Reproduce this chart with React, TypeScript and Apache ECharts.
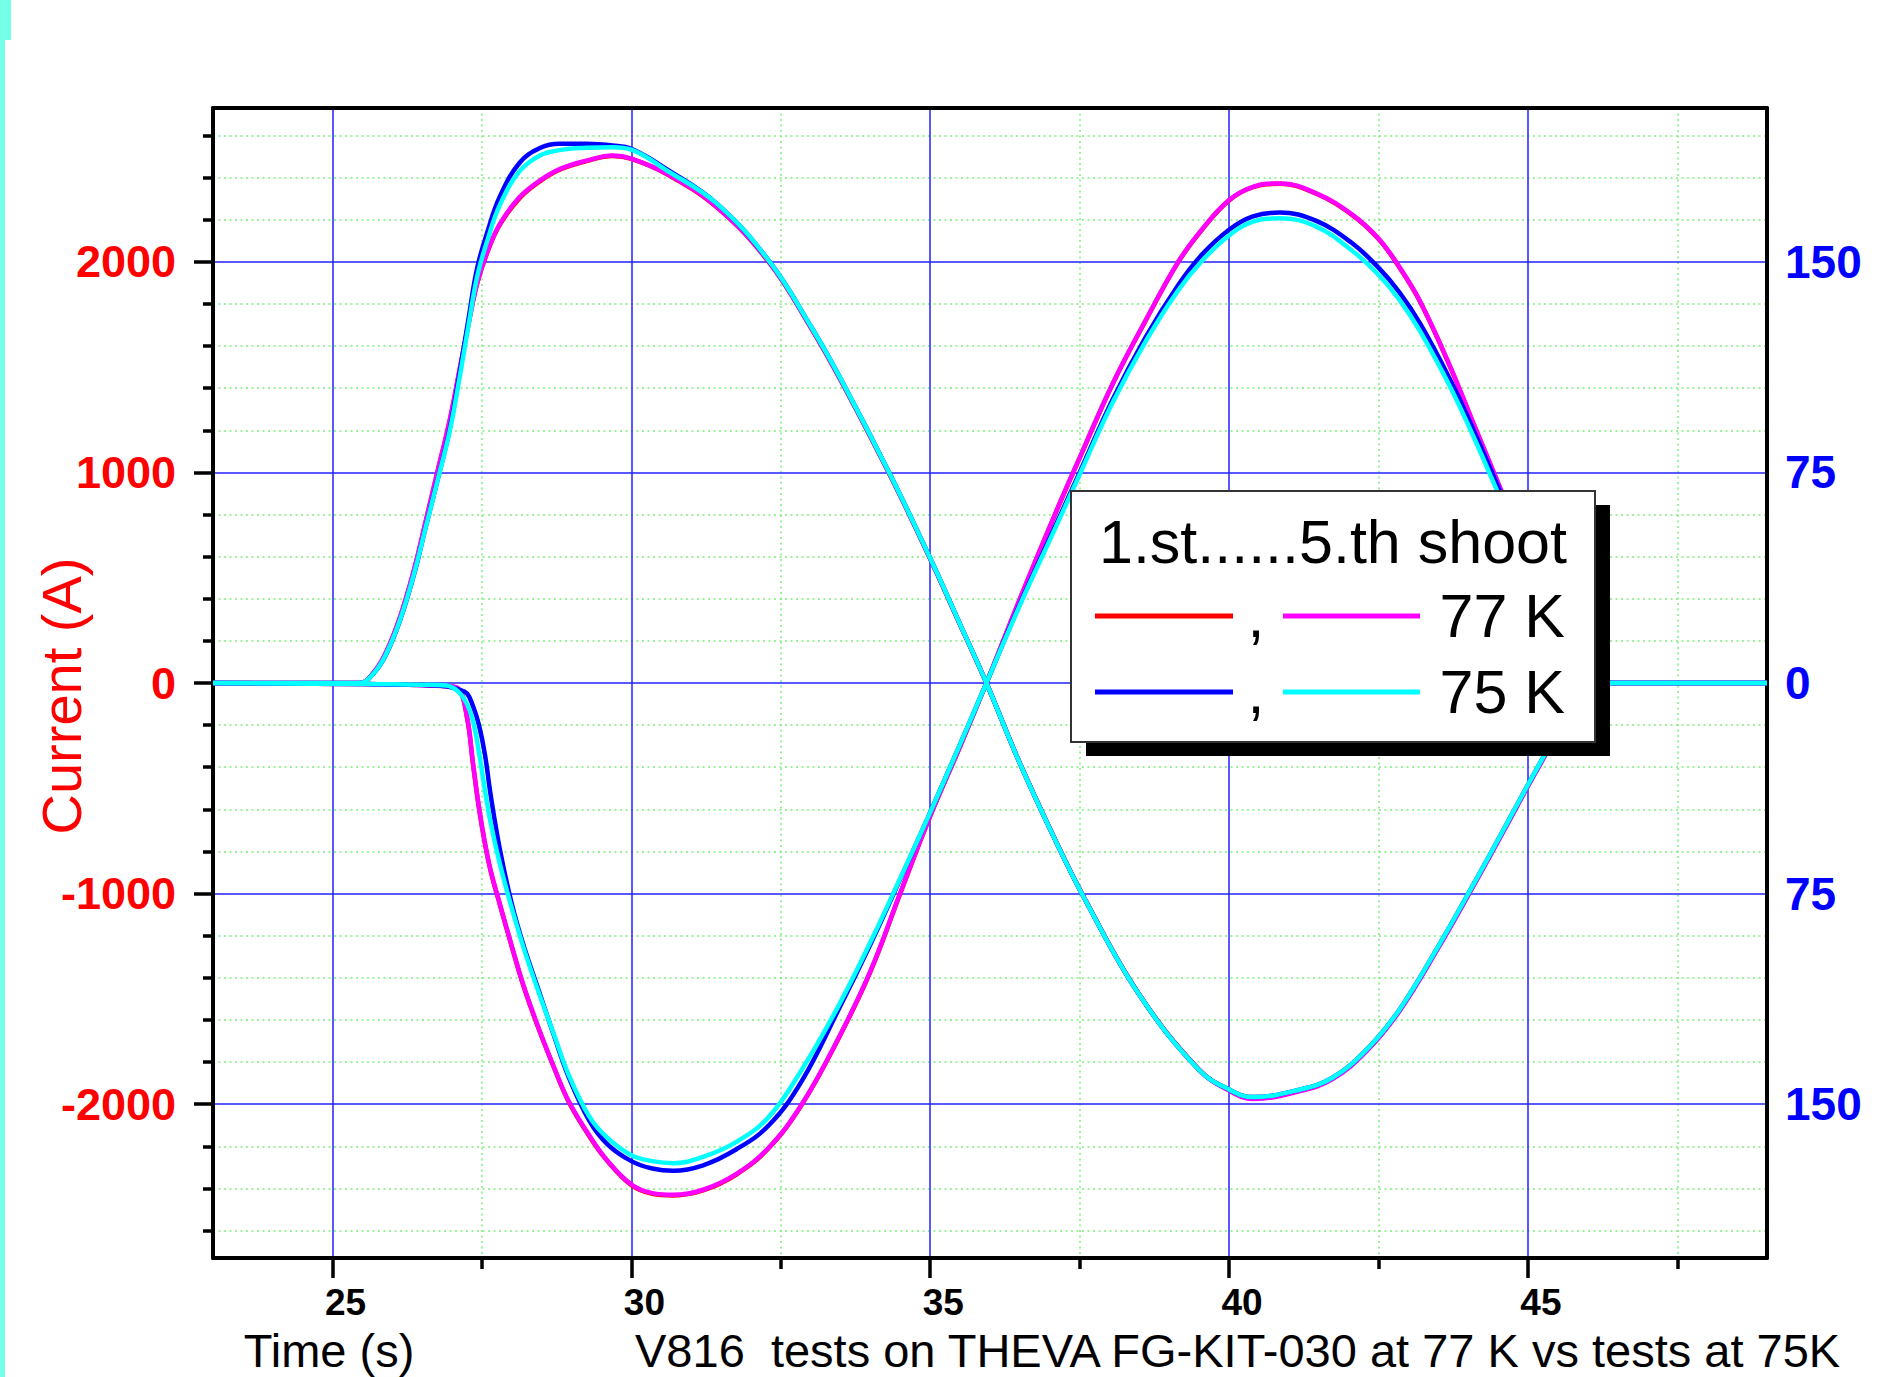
import React, { useEffect, useRef } from "react";
import * as echarts from "echarts";

// ---------- axis ranges & ticks ----------
const X_MIN = 23;
const X_MAX = 49;
const Y_MIN = -2730;
const Y_MAX = 2730;
const xMajorTicks = [25, 30, 35, 40, 45];
const xMinorTicks = [27.5, 32.5, 37.5, 42.5, 47.5];
const yMajorTicks = [-2000, -1000, 0, 1000, 2000];
const yMinorTicks = [
  -2600, -2400, -2200, -1800, -1600, -1400, -1200, -800, -600, -400, -200,
  200, 400, 600, 800, 1200, 1400, 1600, 1800, 2200, 2400, 2600,
];
const rightAxisPerAmp = 0.075; // right scale: 75 per 1000 A

// ---------- curve A (positive first) ----------
const timeA = [
  23, 25.45, 25.7, 25.9, 26.13, 26.36, 26.56, 26.76, 26.96, 27.12,
  27.27, 27.42, 27.6, 27.8, 28.13, 28.47, 28.8, 29.25, 29.69, 30.0,
  30.59, 31.43, 32.3, 33.0, 33.5, 34.35, 35.0, 35.48, 35.94, 36.48,
  37.08, 37.58, 38.49, 39.49, 40.0, 40.4, 41.18, 41.73, 42.3, 42.85,
  43.5, 44.1, 44.7, 45.0, 45.3, 45.6, 45.85, 46.05, 49,
];
const redA = [
  0, 0, 53, 147, 312, 532, 767, 1006, 1244, 1476,
  1696, 1897, 2052, 2176, 2302, 2382, 2437, 2478, 2502, 2488,
  2416, 2258, 1998, 1688, 1438, 973, 588, 288, 0, -367,
  -737, -1021, -1475, -1833, -1933, -1972, -1936, -1878, -1746, -1556,
  -1256, -956, -646, -488, -336, -176, -56, 0, 0,
];
const magentaA = [
  0, 0, 55, 150, 315, 535, 770, 1010, 1248, 1480,
  1700, 1900, 2055, 2180, 2307, 2386, 2440, 2480, 2505, 2490,
  2418, 2260, 2000, 1690, 1440, 975, 590, 290, 0, -369,
  -739, -1023, -1477, -1835, -1935, -1975, -1938, -1880, -1748, -1558,
  -1258, -958, -648, -490, -338, -178, -58, 0, 0,
];
const blueA = [
  0, 0, 50, 138, 298, 512, 742, 968, 1205, 1460,
  1720, 1970, 2150, 2310, 2470, 2540, 2560, 2560, 2552, 2536,
  2440, 2276, 2005, 1695, 1445, 978, 592, 291, 0, -369,
  -739, -1023, -1477, -1835, -1930, -1966, -1931, -1874, -1741, -1551,
  -1250, -950, -640, -483, -330, -170, -50, 0, 0,
];
const cyanA = [
  0, 0, 50, 140, 300, 515, 740, 965, 1195, 1440,
  1690, 1930, 2110, 2270, 2430, 2505, 2530, 2541, 2544, 2532,
  2434, 2276, 2005, 1695, 1445, 978, 592, 291, 0, -369,
  -739, -1023, -1477, -1835, -1930, -1966, -1931, -1874, -1741, -1551,
  -1250, -950, -640, -483, -330, -170, -50, 0, 0,
];

// ---------- curve B (negative first) ----------
const timeB = [
  23, 25.5, 26.5, 26.9, 27.1, 27.25, 27.35, 27.45, 27.55, 27.65,
  27.8, 28.0, 28.2, 28.45, 28.7, 28.95, 29.3, 29.6, 30.0, 30.35,
  30.7, 31.2, 31.75, 32.3, 32.85, 33.45, 34.0, 34.5, 35.0, 35.5,
  35.94, 36.5, 37.1, 37.5, 38.05, 38.6, 39.15, 39.55, 40.0, 40.4,
  40.85, 41.45, 42.05, 42.5, 42.85, 43.2, 43.7, 44.1, 44.55, 45.0,
  45.4, 45.7, 45.95, 46.1, 49,
];
const redB = [
  0, -5, -10, -16, -28, -165, -385, -595, -763, -898,
  -1053, -1253, -1443, -1643, -1823, -1988, -2154, -2270, -2384, -2425,
  -2433, -2409, -2335, -2208, -2003, -1697, -1370, -998, -632, -302,
  0, 398, 808, 1068, 1418, 1718, 1998, 2153, 2291, 2354,
  2370, 2324, 2224, 2108, 1973, 1808, 1500, 1223, 915, 598,
  318, 118, 18, 0, 0,
];
const magentaB = [
  0, -5, -10, -15, -25, -160, -380, -590, -760, -895,
  -1050, -1250, -1440, -1640, -1820, -1985, -2150, -2268, -2381, -2422,
  -2430, -2406, -2332, -2205, -2000, -1694, -1367, -995, -630, -300,
  0, 400, 810, 1070, 1420, 1720, 2000, 2155, 2293, 2356,
  2372, 2326, 2226, 2110, 1975, 1810, 1502, 1225, 917, 600,
  320, 120, 20, 0, 0,
];
const blueB = [
  0, -5, -10, -15, -30, -50, -110, -200, -340, -540,
  -790, -1050, -1250, -1460, -1670, -1870, -2080, -2190, -2270, -2305,
  -2316, -2290, -2215, -2100, -1890, -1560, -1240, -930, -614, -290,
  0, 375, 750, 1000, 1345, 1640, 1890, 2035, 2152, 2215,
  2234, 2195, 2090, 1972, 1855, 1705, 1440, 1195, 900, 600,
  315, 118, 20, 0, 0,
];
const cyanB = [
  0, -5, -8, -12, -40, -100, -180, -330, -510, -670,
  -860, -1070, -1260, -1470, -1665, -1860, -2060, -2160, -2242, -2270,
  -2280, -2250, -2180, -2060, -1836, -1541, -1230, -926, -614, -290,
  0, 370, 740, 990, 1330, 1620, 1865, 2005, 2125, 2190,
  2206, 2168, 2055, 1938, 1819, 1668, 1405, 1163, 870, 578,
  305, 112, 20, 0, 0,
];

// ---------- texts ----------
const xTitle = "Time (s)";
const yTitle = "Current (A)";
const subtitle = "V816  tests on THEVA FG-KIT-030 at 77 K vs tests at 75K";
const legendTitle = "1.st......5.th shoot";
const legendRowLabels = ["77 K", "75 K"];

// ---------- styles ----------
const FONT = "'Liberation Sans', Arial, Helvetica, sans-serif";
const RED = "#FF0000";
const MAGENTA = "#FF00FF";
const BLUE = "#0000FF";
const CYAN = "#00FFFF";
const BLUE_GRID = "#2222FF";
const GREEN_GRID = "#7CF07C";
const STRIP = "#74FFE8";

const seriesDefs = [
  { name: "77 K 1st shoot", t: timeA, v: redA, color: RED },
  { name: "77 K 1st shoot ", t: timeB, v: redB, color: RED },
  { name: "77 K 5th shoot", t: timeA, v: magentaA, color: MAGENTA },
  { name: "77 K 5th shoot ", t: timeB, v: magentaB, color: MAGENTA },
  { name: "75 K 1st shoot", t: timeA, v: blueA, color: BLUE },
  { name: "75 K 1st shoot ", t: timeB, v: blueB, color: BLUE },
  { name: "75 K 5th shoot", t: timeA, v: cyanA, color: CYAN },
  { name: "75 K 5th shoot ", t: timeB, v: cyanB, color: CYAN },
];

function buildOption(): any {
  const LX = 1071;
  const LY = 491;
  const ZL = 100;
  const legendEls: any[] = [
    { type: "rect", z: ZL, shape: { x: LX + 15, y: LY + 14, width: 524, height: 251 }, style: { fill: "#000" } },
    {
      type: "rect",
      z: ZL + 1,
      shape: { x: LX, y: LY, width: 524, height: 251 },
      style: { fill: "#fff", stroke: "#333", lineWidth: 2 },
    },
    {
      type: "text",
      z: ZL + 2,
      x: LX + 28,
      y: LY + 51,
      style: {
        text: legendTitle,
        fontFamily: FONT,
        fontSize: 61,
        fill: "#000",
        align: "left",
        verticalAlign: "middle",
      },
    },
  ];
  const rowColors = [
    [RED, MAGENTA],
    [BLUE, CYAN],
  ];
  const rowY = [125, 201];
  legendRowLabels.forEach((label, i) => {
    const y = LY + rowY[i];
    legendEls.push(
      {
        type: "line",
        z: ZL + 2,
        shape: { x1: LX + 24, y1: y, x2: LX + 162, y2: y },
        style: { stroke: rowColors[i][0], lineWidth: 5 },
      },
      {
        type: "text",
        z: ZL + 2,
        x: LX + 185,
        y,
        style: { text: ",", fontFamily: FONT, fontSize: 61, fill: "#000", align: "center", verticalAlign: "middle" },
      },
      {
        type: "line",
        z: ZL + 2,
        shape: { x1: LX + 212, y1: y, x2: LX + 349, y2: y },
        style: { stroke: rowColors[i][1], lineWidth: 5 },
      },
      {
        type: "text",
        z: ZL + 2,
        x: LX + 494,
        y,
        style: { text: label, fontFamily: FONT, fontSize: 61, fill: "#000", align: "right", verticalAlign: "middle" },
      }
    );
  });

  return {
    animation: false,
    backgroundColor: "#ffffff",
    textStyle: { fontFamily: FONT },
    grid: {
      left: 213,
      top: 108,
      width: 1554,
      height: 1150,
      containLabel: false,
      outerBoundsMode: "none",
    },
    xAxis: [
      {
        type: "value",
        position: "bottom",
        min: X_MIN,
        max: X_MAX,
        z: 1,
        name: xTitle,
        nameLocation: "middle",
        nameGap: 71,
        nameMoveOverlap: false,
        nameTextStyle: {
          fontFamily: FONT,
          fontSize: 47,
          lineHeight: 42,
          color: "#000",
          padding: [0, 1322, 0, 0],
        },
        axisLine: { show: true, onZero: false, lineStyle: { color: "#000", width: 4 } },
        axisTick: {
          show: true,
          inside: false,
          length: 20,
          customValues: xMajorTicks,
          lineStyle: { color: "#000", width: 3.5 },
        },
        axisLabel: {
          show: true,
          customValues: xMajorTicks,
          margin: 27,
          fontFamily: FONT,
          fontSize: 37,
          lineHeight: 34,
          fontWeight: "bold",
          color: "#000",
          padding: [0, 0, 0, 26],
          formatter: (v: number) => String(v),
        },
        splitLine: { show: true, lineStyle: { color: BLUE_GRID, width: 1.5 } },
      },
      {
        type: "value",
        position: "bottom",
        min: X_MIN,
        max: X_MAX,
        z: 0,
        axisLine: { show: false, onZero: false },
        axisTick: {
          show: true,
          inside: false,
          length: 11,
          customValues: xMinorTicks,
          lineStyle: { color: "#000", width: 3.5 },
        },
        axisLabel: { show: false },
        splitLine: { show: true, lineStyle: { color: GREEN_GRID, width: 1.5, type: [2, 3.5] } },
      },
      {
        type: "value",
        position: "top",
        min: X_MIN,
        max: X_MAX,
        z: 1,
        axisLine: { show: true, onZero: false, lineStyle: { color: "#000", width: 4 } },
        axisTick: { show: false },
        axisLabel: { show: false },
        splitLine: { show: false },
      },
    ],
    yAxis: [
      {
        type: "value",
        position: "left",
        min: Y_MIN,
        max: Y_MAX,
        z: 1,
        name: yTitle,
        nameLocation: "middle",
        nameGap: 124,
        nameMoveOverlap: false,
        nameTextStyle: { fontFamily: FONT, fontSize: 56, color: RED, padding: [0, 26, 0, 0] },
        axisLine: { show: true, onZero: false, lineStyle: { color: "#000", width: 4 } },
        axisTick: {
          show: true,
          inside: false,
          length: 19,
          customValues: yMajorTicks,
          lineStyle: { color: "#000", width: 3.5 },
        },
        axisLabel: {
          show: true,
          customValues: yMajorTicks,
          margin: 37,
          fontFamily: FONT,
          fontSize: 45,
          fontWeight: "bold",
          color: RED,
          formatter: (v: number) => String(v),
        },
        splitLine: { show: true, lineStyle: { color: BLUE_GRID, width: 1.5 } },
      },
      {
        type: "value",
        position: "left",
        min: Y_MIN,
        max: Y_MAX,
        z: 0,
        axisLine: { show: false, onZero: false },
        axisTick: {
          show: true,
          inside: false,
          length: 10,
          customValues: yMinorTicks,
          lineStyle: { color: "#000", width: 3.5 },
        },
        axisLabel: { show: false },
        splitLine: { show: true, lineStyle: { color: GREEN_GRID, width: 1.5, type: [2, 3.5] } },
      },
      {
        type: "value",
        position: "right",
        min: Y_MIN,
        max: Y_MAX,
        z: 1,
        axisLine: { show: true, onZero: false, lineStyle: { color: "#000", width: 4 } },
        axisTick: { show: false },
        axisLabel: {
          show: true,
          customValues: yMajorTicks,
          margin: 18,
          fontFamily: FONT,
          fontSize: 46,
          fontWeight: "bold",
          color: BLUE,
          formatter: (v: number) => String(Math.abs(Math.round(v * rightAxisPerAmp))),
        },
        splitLine: { show: false },
      },
    ],
    series: seriesDefs.map((d, i) => ({
      type: "line",
      name: d.name,
      xAxisIndex: 0,
      yAxisIndex: 0,
      data: d.t.map((t, k) => [t, d.v[k]]),
      showSymbol: false,
      symbol: "none",
      smooth: 0.4,
      silent: true,
      z: 3 + i,
      lineStyle: { color: d.color, width: 4.5 },
      itemStyle: { color: d.color },
    })),
    graphic: [
      { type: "rect", z: 50, shape: { x: 0, y: 0, width: 5, height: 1377 }, style: { fill: STRIP } },
      { type: "rect", z: 50, shape: { x: 0, y: 0, width: 11, height: 40 }, style: { fill: STRIP } },
      ...legendEls,
      {
        type: "text",
        z: 50,
        x: 635,
        y: 1350,
        style: {
          text: subtitle,
          fontFamily: FONT,
          fontSize: 47,
          lineHeight: 42,
          fill: "#000",
          align: "left",
          verticalAlign: "middle",
        },
      },
    ],
  };
}

export default function App() {
  const ref = useRef<HTMLDivElement>(null);
  useEffect(() => {
    document.body.style.margin = "0";
    document.body.style.overflow = "hidden";
    const chart = echarts.init(ref.current as HTMLDivElement, undefined, { renderer: "svg" });
    chart.setOption(buildOption());
    return () => chart.dispose();
  }, []);
  return <div ref={ref} style={{ width: 1879, height: 1377, background: "#fff" }} />;
}
